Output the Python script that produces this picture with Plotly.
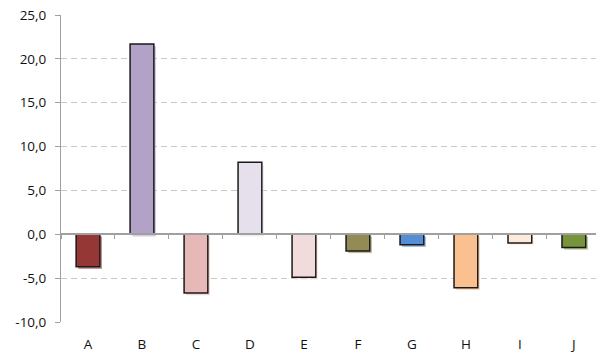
import plotly.graph_objects as go

# Category labels and their values
categories = ["A", "B", "C", "D", "E", "F", "G", "H", "I", "J"]
values = [-3.7, 21.7, -6.7, 8.2, -4.9, -1.9, -1.2, -6.1, -1.0, -1.5]
fill_colors = ["#953735", "#B3A2C7", "#E6B9B8", "#E6E0EC", "#F2DCDB",
               "#948A54", "#558ED5", "#FAC090", "#FDEADA", "#77933C"]
y_ticks = [-10, -5, 0, 5, 10, 15, 20, 25]
# comma decimal mark and a plain hyphen for negatives
y_tick_text = [f"{v:.1f}".replace(".", ",") for v in y_ticks]

BAR_W = 0.44
SHADOW_DX = 0.04
SHADOW_DY = 0.25

fig = go.Figure()

# soft drop shadow behind each bar
fig.add_trace(go.Bar(
    x=categories, y=values, base=[-SHADOW_DY] * len(values),
    width=BAR_W, offset=-BAR_W / 2 + SHADOW_DX,
    marker=dict(color=fill_colors, opacity=0.55, line=dict(width=0)),
    hoverinfo="skip", showlegend=False,
))

# main bars
fig.add_trace(go.Bar(
    x=categories, y=values, width=BAR_W, offset=-BAR_W / 2,
    marker=dict(color=fill_colors, line=dict(color="#1a1a1a", width=1.5)),
    showlegend=False,
))

# helper trace so the zero-crossing category axis is rendered
fig.add_trace(go.Scatter(
    x=categories, y=[0] * len(categories), xaxis="x2", yaxis="y",
    mode="markers", marker=dict(opacity=0), hoverinfo="skip", showlegend=False,
))

y_min, y_max = -10, 25
x_range = [-0.5, 9.41]
font = dict(family="Open Sans, DejaVu Sans, sans-serif", size=13.5, color="#111111")

fig.update_layout(
    width=596, height=352,
    margin=dict(l=61, r=0, t=15, b=30),
    paper_bgcolor="white", plot_bgcolor="white",
    barmode="overlay",
    font=font,
    xaxis=dict(
        type="category", range=x_range, showgrid=False, showline=False,
        zeroline=False, ticks="outside", ticklen=10, tickcolor="rgba(0,0,0,0)",
        tickfont=font,
    ),
    xaxis2=dict(
        type="category", range=x_range, overlaying="x", anchor="free",
        position=(0 - y_min) / (y_max - y_min),
        showgrid=False, showline=True, linecolor="#a0a0a0", linewidth=2,
        ticks="outside", tickson="boundaries", ticklen=4, tickcolor="#a0a0a0",
        tickwidth=1, showticklabels=False, layer="above traces",
    ),
    yaxis=dict(
        range=[y_min, y_max], tickvals=y_ticks, ticktext=y_tick_text,
        showgrid=True, gridcolor="#c8c8c8", griddash="6px,4px", gridwidth=1,
        zeroline=False, showline=True, linecolor="#a0a0a0", linewidth=1,
        ticks="outside", ticklen=5, tickcolor="#a0a0a0",
        ticklabelstandoff=6, tickfont=font,
    ),
)

fig.write_html("out.html")
